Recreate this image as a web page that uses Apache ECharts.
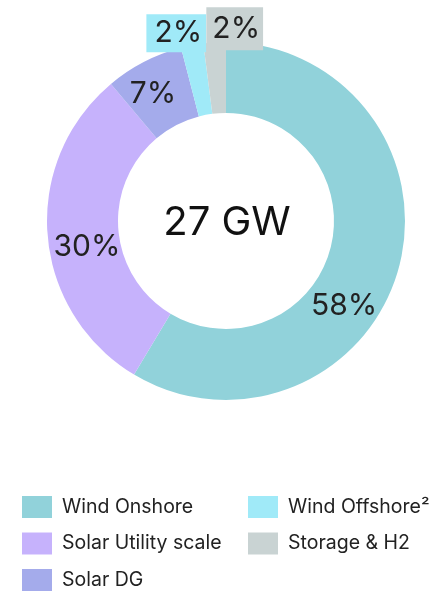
<!DOCTYPE html>
<html>
<head>
<meta charset="utf-8">
<script src="https://cdn.jsdelivr.net/npm/echarts@6/dist/echarts.min.js"></script>
<style>html,body{margin:0;padding:0;background:#fff;}#c{width:447px;height:593px;}</style>
</head>
<body>
<div id="c"></div>
<script>
const categories = ['Wind Onshore', 'Solar Utility scale', 'Solar DG', 'Wind Offshore²', 'Storage & H2'];
const values = [58, 30, 7, 2, 2];
const labels = ['58%', '30%', '7%', '2%', '2%'];
const colors = ['#91D2DA', '#C6B2FC', '#A4ABEB', '#A0EAF8', '#C9D3D3'];
const centerText = '27 GW';

const FONT = 'Inter, "Noto Sans", sans-serif';
const TXT = '#222';

// per-slice label nudges (relative to the library's inside position)
const labelShift = [[-23, 46], [7, 14], [-6, 3], [-22, -44], [18, -46]];
const boxPads = [null, null, null, [4, 4, 4, 8], [6, 3, 7, 6]];

const data = categories.map((name, i) => {
  const lab = {
    show: true,
    position: 'inside',
    formatter: labels[i],
    color: TXT,
    fontSize: 30,
    lineHeight: 30,
    fontFamily: FONT
  };
  if (boxPads[i]) {
    lab.backgroundColor = colors[i];
    lab.padding = boxPads[i];
  }
  return { name: name, value: values[i], itemStyle: { color: colors[i] }, label: lab };
});

const legendBase = {
  orient: 'vertical', top: 496, padding: 0,
  itemWidth: 30, itemHeight: 22, itemGap: 14.5,
  icon: 'rect', selectedMode: false,
  textStyle: { fontSize: 19.5, fontFamily: FONT, color: TXT, padding: [0, 0, 0, 5] }
};

const chart = echarts.init(document.getElementById('c'));
chart.setOption({
  animation: false,
  legend: [
    Object.assign({}, legendBase, { data: categories.slice(0, 3), left: 22 }),
    Object.assign({}, legendBase, { data: categories.slice(3), left: 248 })
  ],
  graphic: [{
    type: 'text',
    style: { text: centerText, x: 227, y: 223, align: 'center', verticalAlign: 'middle', fontSize: 40, fontFamily: FONT, fill: '#111' }
  }],
  series: [{
    type: 'pie',
    center: [226, 221],
    radius: [108, 179],
    startAngle: 90,
    clockwise: true,
    avoidLabelOverlap: false,
    silent: true,
    emphasis: { disabled: true },
    labelLine: { show: false },
    labelLayout: function (p) {
      const s = labelShift[p.dataIndex];
      return { dx: s[0], dy: s[1], hideOverlap: false };
    },
    data: data
  }]
});
</script>
</body>
</html>
